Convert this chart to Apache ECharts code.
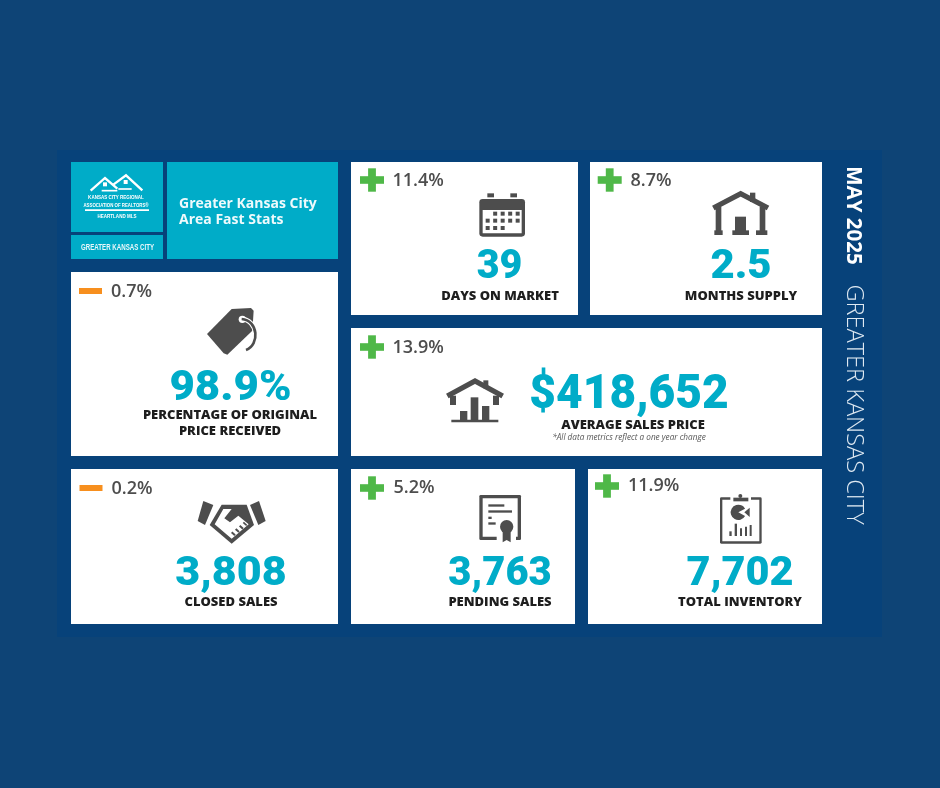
<!DOCTYPE html>
<html><head><meta charset="utf-8">
<style>html,body{margin:0;padding:0;background:#0e4476}#c{width:940px;height:788px}</style>
<script src="https://cdn.jsdelivr.net/npm/echarts@6/dist/echarts.min.js"></script>
</head><body><div id="c"></div>
<script>
// ---- data ----
const metricNames = ['DAYS ON MARKET','MONTHS SUPPLY','PERCENTAGE OF ORIGINAL\nPRICE RECEIVED','AVERAGE SALES PRICE','CLOSED SALES','PENDING SALES','TOTAL INVENTORY'];
const metricValues = ['39','2.5','98.9%','$418,652','3,808','3,763','7,702'];
const metricChanges = ['11.4%','8.7%','0.7%','13.9%','0.2%','5.2%','11.9%'];
const changeSigns = ['+','+','-','+','-','+','+'];
const titleLines = ['Greater Kansas City','Area Fast Stats'];
const monthLabel = 'MAY 2025';
const areaLabel = 'GREATER KANSAS CITY';
const footnote = '*All data metrics reflect a one year change';

// ---- layout and style (not data) ----
const TEAL='#00acc8', DARK='#4d4d4d', INK='#1e1e1e', GREEN='#4fb848', ORANGE='#f78f1e', PANEL='#07427a', BG='#0e4476';
const cards=[[351,162,227,153],[590,162,232,153],[71,272,267,184],[351,328,471,128],[71,469,267,155],[351,469,224,155],[588,469,234,155]];
const marks=[[372,180,392.5,180.5],[609.7,180,630.5,180.5],[90.5,291,111,291.5],[372,347,392.5,347.5],[91,488,111.5,488.5],[372,488,393.5,488],[607,486,628,486]];
const valuePos=[[499.5,268,41,.96],[741,268,41,1.02],[230.5,389,43,1.02],[629,396,48,.96],[231,574.5,41,1.05],[500,574.5,41,.975],[740,574.5,41,1.01]];
const labelPos=[[500,296],[741,296],[230,423],[633,425],[231,602],[500,602],[740,602]];

const numFont=s=>`900 ${s}px Roboto`;
const T=(text,x,y,font,fill,align,extra)=>Object.assign({type:'text',x,y,silent:true,style:{text,font,fill,textAlign:align||'center',textVerticalAlign:'middle',lineHeight:15.7}},extra||{});
const R=(x,y,w,h,fill)=>({type:'rect',silent:true,shape:{x,y,width:w,height:h},style:{fill:fill||DARK}});
const P=(pts,fill)=>({type:'polygon',silent:true,shape:{points:pts},style:{fill:fill||DARK}});
const L=(pts,w,col)=>({type:'polyline',silent:true,shape:{points:pts},style:{fill:null,stroke:col||DARK,lineWidth:w,lineJoin:'miter'}});
const C=(cx,cy,r,fill)=>({type:'circle',silent:true,shape:{cx,cy,r},style:{fill:fill||DARK}});
const Z=(ox,oy,children)=>({type:'group',x:ox,y:oy,scaleX:1/3,scaleY:1/3,silent:true,children});

const icons=[
 // calendar
 Z(350,155,(()=>{const a=[R(412,115,20,12),R(481,115,20,12),{type:'rect',silent:true,shape:{x:388,y:132,width:137,height:113,r:10},style:{fill:DARK}},R(398,165,117,70,'#fff')];
  [[1,2,3,4],[0,1,2,3,4],[0,1,2]].forEach((row,i)=>row.forEach(j=>a.push(R(407+j*22.5,[170,191,213][i],12,12))));return a;})()),
 // house with door
 Z(585,155,[R(495,113,16,28),L([[385,159],[467,116],[549,159]],16),R(392,155,17,80),R(524,155,17,80),R(388,226,25,14),R(513,226,34,14),R(450,185,33,50),R(442,226,50,14)]),
 // price tag
 Z(65,270,[P([[426,192],[500,117],[558,114],[566,122],[562,182],[487,254],[476,250]]),C(532,148,11,'#fff'),
   {type:'bezierCurve',silent:true,shape:{x1:528,y1:146,cpx1:580,cpy1:150,cpx2:585,cpy2:225,x2:543,y2:240},style:{fill:null,stroke:'#fff',lineWidth:14}},
   {type:'bezierCurve',silent:true,shape:{x1:530,y1:147,cpx1:580,cpy1:150,cpx2:585,cpy2:225,x2:543,y2:240},style:{fill:null,stroke:DARK,lineWidth:8}}]),
 // house with bars
 Z(350,325,[R(400,166,15,24),L([[292,213],[375,168],[458,213]],16),R(300,212,18,28),R(429,212,18,28),R(330,258,22,30),R(362,217,23,71),R(396,243,22,45),R(304,284,141,8)]),
 // handshake
 Z(65,465,[P([[415,108],[445,120],[420,180],[398,168]]),P([[555,120],[582,108],[602,168],[580,180]]),
   P([[470,119],[545,119],[567,180],[500,236],[434,180]]),
   P([[449,178],[475,132],[500,132],[478,160],[495,172],[520,152],[551,178],[500,221]],'#fff'),
   L([[500,202],[510,211]],6),L([[512,192],[522,201]],6),L([[524,182],[534,191]],6),L([[535,172],[545,181]],5)]),
 // certificate
 Z(350,465,[{type:'rect',silent:true,shape:{x:388,y:90,width:125,height:135,r:4},style:{fill:DARK}},R(398,100,105,115,'#fff'),R(440,213,58,14,'#fff'),
   R(415,118,48,7),R(415,136,71,7),R(415,155,10,7),R(415,172,22,7),C(470,185,20),P([[458,198],[482,198],[482,232],[470,225],[458,232]])]),
 // clipboard
 Z(585,465,[{type:'rect',silent:true,shape:{x:405,y:97,width:125,height:139,r:4},style:{fill:DARK}},R(412,104,111,125,'#fff'),R(436,95,62,15,'#fff'),
   R(445,98,45,11),C(466,93,6),{type:'sector',silent:true,shape:{cx:460,cy:142,r:23,r0:0,startAngle:.5,endAngle:Math.PI*2-.5},style:{fill:DARK}},P([[478,142],[494,128],[494,156]]),
   R(433,199,7,14),R(449,176,7,37),R(465,190,6,23),R(480,185,6,28),R(494,180,6,33)]),
 // logo
 Z(60,150,[L([[92,122],[135,84],[172,116]],7,'#fff'),L([[160,104],[198,76],[247,121]],7,'#fff'),L([[125,122],[172,122]],5,'#fff'),L([[175,117],[215,117]],5,'#fff'),
   R(129,97,12,12,'#fff'),R(191,90,12,12,'#fff'),R(75,178,192,5,'#fff')])
];

const g=[R(57,150,825,487,PANEL),R(71,162,92,70,TEAL),R(71,235,92,24,TEAL),R(167,162,171,97,TEAL)];
cards.forEach(c=>g.push(R(c[0],c[1],c[2],c[3],'#fff')));
g.push(...icons);
const narrow=(t,x,y,s,k,col)=>T(t,x,y,`bold ${s}px "Liberation Sans"`,col||'#fff','center',{scaleX:k});
g.push(narrow('KANSAS CITY REGIONAL',116,197.5,5.8,.78));
g.push(narrow('ASSOCIATION OF REALTORS®',116,205,5.8,.75));
g.push(narrow('HEARTLAND MLS',117,216.5,5.8,.78));
g.push(narrow(areaLabel,117.5,247.5,8.8,.7,'#e8f7fa'));
titleLines.forEach((t,i)=>g.push(T(t,179,204+i*16,'700 14px "Open Sans"','#eefafc','left')));
metricNames.forEach((name,i)=>{
  const m=marks[i];
  if(changeSigns[i]==='+'){g.push(R(m[0]-12,m[1]-3.8,24,7.6,GREEN),R(m[0]-3.9,m[1]-11.7,7.8,23.4,GREEN));}
  else g.push(R(m[0]-11.5,m[1]-3,23,6,ORANGE));
  g.push(T(metricChanges[i],m[2],m[3],'600 18px "Open Sans"',DARK,'left'));
  const v=valuePos[i];
  g.push(T(metricValues[i],v[0],v[1],numFont(v[2]),TEAL,'center',{scaleX:v[3]}));
  g.push(T(name,labelPos[i][0],labelPos[i][1],'800 13px "Open Sans"',INK));
});
g.push(T(footnote,629,438,'italic 8.2px "Open Sans"','#555'));
g.push(T(monthLabel,853,215.5,'bold 20.5px "Open Sans"','#fff','center',{rotation:-Math.PI/2}));
g.push(T(areaLabel,853.5,404.5,'300 23.6px "Open Sans"','#dfe9f2','center',{rotation:-Math.PI/2}));

const chart=echarts.init(document.getElementById('c'),null,{width:940,height:788});
chart.setOption({animation:false,backgroundColor:BG,graphic:{elements:g}});
</script></body></html>
